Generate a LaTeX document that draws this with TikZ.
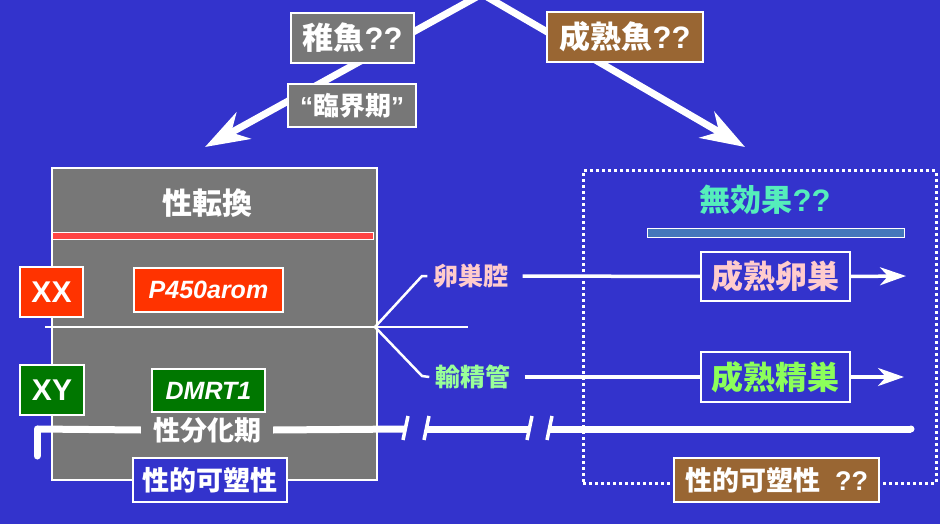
\documentclass[tikz,border=0pt]{standalone}
\usepackage{fontspec}
\setmainfont{Liberation Sans}
\newfontfamily\cjk{Noto Sans CJK JP}
\usetikzlibrary{arrows.meta}
\definecolor{bg}{RGB}{51,51,204}
\definecolor{grayfill}{RGB}{119,119,119}
\definecolor{brownfill}{RGB}{153,102,51}
\definecolor{redfill}{RGB}{255,51,0}
\definecolor{redbar}{RGB}{255,68,68}
\definecolor{greenfill}{RGB}{0,119,0}
\definecolor{pinktext}{RGB}{255,204,204}
\definecolor{greentext}{RGB}{153,255,153}
\definecolor{limetext}{RGB}{140,255,90}
\definecolor{aquatext}{RGB}{85,238,187}
\definecolor{steelbar}{RGB}{68,119,187}
\newcommand{\J}[1]{{\cjk #1}}
\newcommand{\fs}[1]{\fontsize{#1}{#1}\selectfont}
\begin{document}
\begin{tikzpicture}[x=1pt,y=-1pt,
  lbox/.style={draw=white, line width=1.2pt, inner sep=0pt, text=white, font=\bfseries},
  chev/.style={draw=white, line width=7pt, -{Stealth[length=44pt,width=30pt,inset=14pt]}},
  thinw/.style={draw=white, line width=2.5pt},
  midw/.style={draw=white, line width=3.5pt},
  midarrow/.style={draw=white, line width=3.5pt, -{Stealth[length=26pt,width=18pt,inset=8pt]}},
  tline/.style={draw=white, line width=7pt},
  slash/.style={draw=white, line width=3.5pt},
  plain/.style={inner sep=0pt, font=\bfseries},
  dotbox/.style={draw=white, line width=3pt, dash pattern=on 3pt off 3pt, inner sep=0pt},
]
\fill[bg] (0,0) rectangle (940,524);
\useasboundingbox (0,0) rectangle (940,524);

% top chevron
\coordinate (apex) at (482,-6);
\coordinate (ltip) at (205,147);
\coordinate (rtip) at (745,147);
\draw[chev] (apex) -- (ltip);
\draw[chev] (apex) -- (rtip);
\node[lbox, fill=grayfill, minimum width=123pt, minimum height=50pt] (chigyo) at (352.5,38) {\fs{31}\J{稚魚}??};
\node[lbox, fill=brownfill, minimum width=156pt, minimum height=50pt] (seigyo) at (625,37) {\fs{31}\J{成熟魚}??};
\node[lbox, fill=grayfill, minimum width=128pt, minimum height=43pt] (rinkai) at (352,105.5) {\fs{26}“\J{臨界期}”};

% left gray box
\node[draw=white, line width=2pt, fill=grayfill, minimum width=325pt, minimum height=312pt, inner sep=0pt] (gbox) at (214.5,324) {};
\node[plain, text=white] (tenkan) at (207,203) {\fs{30}\J{性転換}};
\node[draw=white, line width=1pt, fill=redbar, minimum width=321pt, minimum height=7pt, inner sep=0pt] (rbar) at (212.5,235.5) {};
\node[lbox, fill=redfill, minimum width=63pt, minimum height=50pt] (xx) at (51.5,292) {\fs{30}XX};
\node[lbox, fill=redfill, minimum width=149pt, minimum height=44pt] (p450) at (208.5,290) {\fs{25}\itshape P450arom};
\node[lbox, fill=greenfill, minimum width=64pt, minimum height=50pt] (xy) at (52,390) {\fs{30}XY};
\node[lbox, fill=greenfill, minimum width=113pt, minimum height=43pt] (dmrt) at (208.5,390.5) {\fs{25}\itshape DMRT1};

% separator and branches
\coordinate (sepL) at (45,327);
\coordinate (branch) at (375,327);
\coordinate (sepR) at (468,327);
\coordinate (bendU) at (422,276);
\coordinate (bendD) at (422,376);
\draw[thinw] (sepL) -- (sepR);
\node[plain, text=pinktext] (ransou) at (471,276) {\fs{25}\J{卵巣腔}};
\node[plain, text=greentext] (yusei) at (473,377) {\fs{25}\J{輸精管}};
\draw[thinw, line join=miter] (branch) -- (bendU) -- ([xshift=-6pt]ransou.west);
\draw[thinw, line join=miter] (branch) -- (bendD) -- ([xshift=-6pt]yusei.west);

% right dotted box
\node[dotbox, minimum width=353pt, minimum height=312pt] (effbox) at (759.5,327) {};
\node[plain, text=aquatext] (mukouka) at (765,200) {\fs{31}\J{無効果}??};
\node[draw=white, line width=1pt, fill=steelbar, minimum width=257pt, minimum height=9pt, inner sep=0pt] (bbar) at (775.5,232.5) {};
\node[lbox, fill=bg, text=pinktext, minimum width=149pt, minimum height=49pt] (ovary) at (775.5,276.5) {\fs{32}\J{成熟卵巣}};
\node[lbox, fill=bg, text=limetext, minimum width=149pt, minimum height=50pt] (testis) at (775.5,377) {\fs{32}\J{成熟精巣}};
\coordinate (otip) at (906,276);
\coordinate (ttip) at (904,377);
\draw[midw] ([xshift=14pt]ransou.east) -- (ovary.west);
\draw[midarrow] (ovary.east) -- (otip);
\draw[midw] ([xshift=14pt]yusei.east) -- (testis.west);
\draw[midarrow] (testis.east) -- (ttip);

% timeline
\coordinate (tl0) at (37,456);
\coordinate (tl1) at (37,429);
\node[plain, text=white, inner xsep=12pt] (bunka) at (207,430) {\fs{27}\J{性分化期}};
\coordinate (brA) at (405.5,429);
\coordinate (brB) at (426.5,429);
\coordinate (brC) at (529.5,429);
\coordinate (brD) at (549.5,429);
\coordinate (tlEnd) at (911,429);
\draw[tline, line cap=round] (tl0) -- (tl1);
\draw[tline] (tl1) -- (bunka.west);
\draw[tline] (bunka.east) -- (brA);
\draw[tline] (brB) -- (brC);
\draw[tline] (brD) -- (tlEnd);
\fill[white] (tlEnd) circle (3.5pt);
\foreach \c in {brA,brB,brC,brD}{
  \draw[slash] ([shift={(-2.5,11)}]\c) -- ([shift={(2.5,-13)}]\c);
}

% bottom labels
\node[lbox, fill=bg, minimum width=154pt, minimum height=44pt] (kaso1) at (210,480) {\fs{27}\J{性的可塑性}};
\node[lbox, fill=brownfill, minimum width=205pt, minimum height=44pt] (kaso2) at (776.5,480) {\fs{27}\J{性的可塑性}\ \ ??};
\end{tikzpicture}
\end{document}
